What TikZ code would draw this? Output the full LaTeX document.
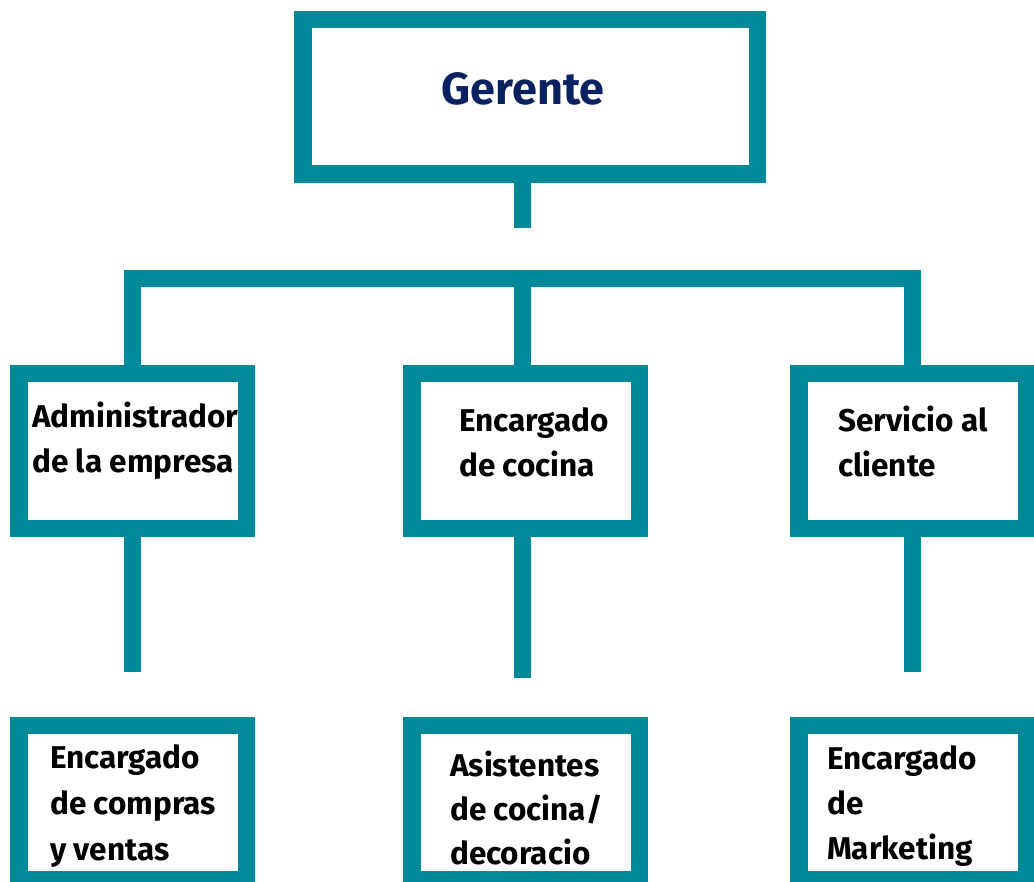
\documentclass[tikz,border=0pt]{standalone}
\usepackage{fontspec}
\setmainfont{Fira Sans}
\usetikzlibrary{calc}
\definecolor{orgteal}{RGB}{0,137,153}
\definecolor{orgnavy}{RGB}{8,33,96}
\tikzset{
  box/.style={draw=orgteal, line width=17.5pt, minimum width=227.5pt, minimum height=154.5pt, inner sep=0pt},
  link/.style={draw=orgteal, line width=17pt},
  lbl/.style={anchor=base west, align=left, inner sep=0pt, font=\fontsize{31.5}{45}\selectfont\bfseries},
}

\begin{document}
\begin{tikzpicture}[x=1pt, y=-1pt]
		%%%%% START %%%%%
		\useasboundingbox (0, 0) rectangle (1034, 882);
		
		% top
		\node[box, minimum width=454.5pt] (ger) at (530, 97) {};
		\node[anchor=base, inner sep=0pt, text=orgnavy, font=\fontsize{45}{50}\selectfont\bfseries] (gertxt) at (523, 105) {Gerente};
		
		% second level
		\node[box] (adm) at (132.5, 451) {};
		\node[box] (cook) at (525.5, 451) {};
		\node[box] (svc) at (912.5, 451) {};
		
		% (base = last line)
		\node[lbl] (admtxt) at (32, 472) {Administrador\\de la empresa};
		\node[lbl] (cooktxt) at (459, 477) {Encargado\\de cocina};
		\node[lbl] (svctxt) at (838, 477) {Servicio al\\cliente};
		
		% third level
		\node[box] (buy) at (132.5, 802.5) {};
		\node[box] (asst) at (525.5, 802.5) {};
		\node[box] (mkt) at (912.5, 802.5) {};
		
		\node[lbl, font=\fontsize{31.5}{46}\selectfont\bfseries] (buytxt) at (50, 860) {Encargado\\de compras\\y ventas};
		\node[lbl, font=\fontsize{31.5}{44}\selectfont\bfseries] (assttxt) at (450, 864) {Asistentes\\de cocina/\\decoracio};
		\node[lbl] (mkttxt) at (827, 859) {Encargado\\de\\Marketing};
		
		% connectors
		\coordinate (stub) at (522.5, 228);
		\coordinate (trunk) at (522.5, 279);
		\coordinate (admend) at (132.5, 672);
		\coordinate (cookend) at (522.5, 678);
		\coordinate (svcend) at (912.5, 672);
		
		\draw[link] (ger.south -| stub) -- (stub);
		\draw[link] (adm.north) |- (trunk) -| (svc.north);
		\draw[link] (trunk) -- (trunk |- cook.north);
		
		\draw[link] (adm.south) -- (admend);
		\draw[link] (cook.south -| cookend) -- (cookend);
		\draw[link] (svc.south) -- (svcend);
		%%%%% END %%%%%
\end{tikzpicture}
\end{document}
